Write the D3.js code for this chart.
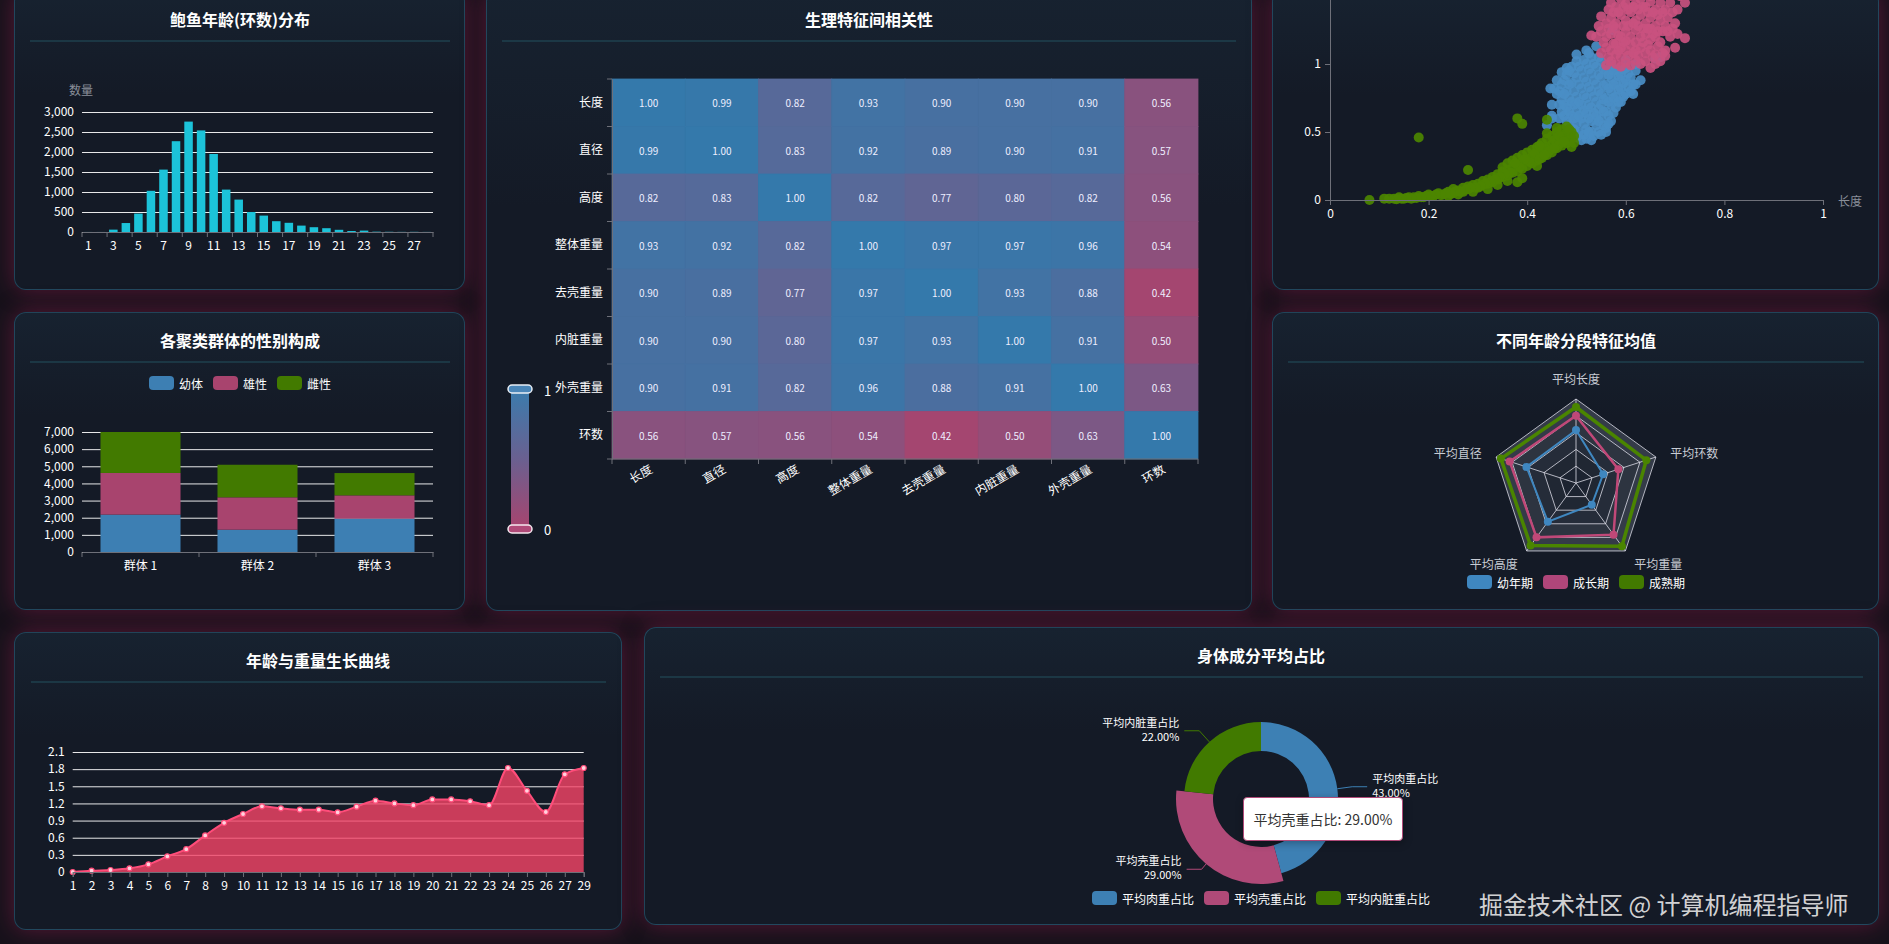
<!DOCTYPE html>
<html><head><meta charset="utf-8">
<script src="https://cdn.jsdelivr.net/npm/d3@7/dist/d3.min.js"></script>
<style>
html,body{margin:0;padding:0;width:1889px;height:944px;overflow:hidden;background:#17121b;}
.panel{position:absolute;box-sizing:border-box;border:1px solid rgba(45,110,140,0.5);border-radius:12px;
background:linear-gradient(180deg,#172230 0%,#141a26 35%,#141a26 100%);box-shadow:0 0 22px rgba(150,30,80,0.5);}
#chart{position:absolute;left:0;top:0;}
#tip{position:absolute;left:1243px;top:797px;width:160px;height:44px;box-sizing:border-box;background:#fff;border:1px solid #b04a78;border-radius:4px;
font:14px "Microsoft YaHei","Noto Sans CJK SC",sans-serif;color:#333;display:flex;align-items:center;justify-content:center;box-shadow:1px 2px 8px rgba(0,0,0,0.3);}
</style></head><body>
<div id="panels"></div>
<svg id="chart" width="1889" height="944"></svg>
<div id="tip"></div>
<script>
// ---------------- DATA ----------------
const ringCats = ['1','2','3','4','5','6','7','8','9','10','11','12','13','14','15','16','17','18','19','20','21','22','23','24','25','26','27','29'];
const ringCounts = [1,1,59,224,460,1030,1560,2270,2760,2540,1950,1060,810,500,410,270,230,160,120,95,55,25,35,8,5,3,4,2];

const clusterNames = ['群体 1','群体 2','群体 3'];
const sexNames = ['幼体','雄性','雌性'];
const sexJuvenile = [2180,1300,1945];
const sexMale = [2430,1890,1360];
const sexFemale = [2390,1900,1300];

const featureNames = ['长度','直径','高度','整体重量','去壳重量','内脏重量','外壳重量','环数'];
const corrMatrix = [
 [1.00,0.99,0.82,0.93,0.90,0.90,0.90,0.56],
 [0.99,1.00,0.83,0.92,0.89,0.90,0.91,0.57],
 [0.82,0.83,1.00,0.82,0.77,0.80,0.82,0.56],
 [0.93,0.92,0.82,1.00,0.97,0.97,0.96,0.54],
 [0.90,0.89,0.77,0.97,1.00,0.93,0.88,0.42],
 [0.90,0.90,0.80,0.97,0.93,1.00,0.91,0.50],
 [0.90,0.91,0.82,0.96,0.88,0.91,1.00,0.63],
 [0.56,0.57,0.56,0.54,0.42,0.50,0.63,1.00]
];

const scatterBlue = [[0.44,0.55],[0.45,0.62],[0.45,0.7],[0.46,0.78],[0.455,0.82],[0.447,0.82],[0.47,0.65],[0.47,0.74],[0.47,0.85],[0.48,0.58],[0.48,0.68],[0.48,0.8],[0.48,0.92],[0.48,0.97],[0.49,0.5],[0.49,0.62],[0.49,0.72],[0.49,0.86],[0.5,0.46],[0.5,0.56],[0.5,0.66],[0.5,0.76],[0.5,0.9],[0.5,1.02],[0.5,1.07],[0.51,0.44],[0.51,0.6],[0.51,0.7],[0.51,0.82],[0.51,0.95],[0.52,0.45],[0.52,0.52],[0.52,0.64],[0.52,0.75],[0.52,0.87],[0.52,1.0],[0.52,1.1],[0.53,0.5],[0.53,0.58],[0.53,0.68],[0.53,0.8],[0.53,0.93],[0.53,1.05],[0.54,0.55],[0.54,0.62],[0.54,0.72],[0.54,0.85],[0.54,0.98],[0.54,1.13],[0.55,0.48],[0.55,0.6],[0.55,0.7],[0.55,0.78],[0.55,0.9],[0.55,1.02],[0.56,0.53],[0.56,0.65],[0.56,0.75],[0.56,0.85],[0.56,0.95],[0.57,0.58],[0.57,0.7],[0.57,0.8],[0.57,0.9],[0.57,1.0],[0.58,0.68],[0.58,0.76],[0.58,0.86],[0.58,0.96],[0.59,0.72],[0.59,0.82],[0.59,0.92],[0.6,0.78],[0.6,0.88],[0.6,0.97],[0.61,0.8],[0.61,0.9],[0.62,0.85],[0.62,0.95],[0.63,0.88],[0.66,1.04],[0.67,1.05],[0.573,1.25],[0.46,0.88],[0.47,0.94],[0.49,0.98],[0.6,1.03],[0.62,1.0],[0.45,0.6],[0.56,0.5],[0.53,0.44],
 [0.465,0.6],[0.465,0.7],[0.465,0.8],[0.475,0.62],[0.475,0.7],[0.475,0.78],[0.475,0.88],[0.485,0.55],[0.485,0.65],[0.485,0.75],[0.485,0.85],[0.485,0.95],[0.495,0.52],[0.495,0.6],[0.495,0.7],[0.495,0.8],[0.495,0.93],[0.505,0.5],[0.505,0.62],[0.505,0.72],[0.505,0.85],[0.505,0.98],[0.515,0.48],[0.515,0.56],[0.515,0.66],[0.515,0.77],[0.515,0.9],[0.515,1.03],[0.525,0.5],[0.525,0.6],[0.525,0.7],[0.525,0.83],[0.525,0.96],[0.525,1.08],[0.535,0.47],[0.535,0.64],[0.535,0.76],[0.535,0.88],[0.535,1.0],[0.545,0.5],[0.545,0.58],[0.545,0.67],[0.545,0.8],[0.545,0.92],[0.545,1.05],[0.555,0.55],[0.555,0.65],[0.555,0.74],[0.555,0.84],[0.555,0.96],[0.565,0.56],[0.565,0.62],[0.565,0.72],[0.565,0.82],[0.565,0.92],[0.575,0.64],[0.575,0.75],[0.575,0.85],[0.575,0.95],[0.585,0.72],[0.585,0.81],[0.585,0.91],[0.595,0.76],[0.595,0.86],[0.595,0.96],[0.605,0.83],[0.605,0.93],[0.615,0.85],[0.615,0.78]];
const scatterPink = [[0.56,0.99],[0.57,1.02],[0.58,1.0],[0.59,1.05],[0.6,1.01],[0.61,0.99],[0.62,1.03],[0.63,1.0],[0.64,1.02],[0.66,1.0],[0.67,1.02],[0.55,1.08],[0.56,1.12],[0.57,1.1],[0.58,1.15],[0.59,1.12],[0.6,1.1],[0.61,1.14],[0.62,1.1],[0.63,1.12],[0.64,1.08],[0.65,1.1],[0.66,1.07],[0.68,1.1],[0.54,1.2],[0.55,1.24],[0.56,1.2],[0.57,1.22],[0.58,1.26],[0.59,1.2],[0.6,1.24],[0.61,1.2],[0.62,1.25],[0.63,1.2],[0.64,1.22],[0.65,1.18],[0.66,1.2],[0.67,1.16],[0.69,1.2],[0.72,1.19],[0.55,1.35],[0.56,1.3],[0.57,1.34],[0.58,1.3],[0.59,1.36],[0.6,1.32],[0.61,1.38],[0.62,1.32],[0.63,1.36],[0.64,1.3],[0.65,1.34],[0.66,1.28],[0.67,1.32],[0.68,1.28],[0.7,1.3],[0.57,1.45],[0.58,1.42],[0.59,1.48],[0.6,1.44],[0.61,1.5],[0.62,1.44],[0.63,1.48],[0.64,1.42],[0.65,1.46],[0.66,1.4],[0.67,1.45],[0.68,1.4],[0.69,1.45],[0.72,1.45],[0.71,1.5],[0.6,1.55],[0.64,1.55],[0.67,1.52],[0.53,1.21],[0.58,1.07],[0.62,1.16],[0.65,1.26],[0.6,1.17],[0.68,1.06],[0.7,1.12],
 [0.565,1.05],[0.575,1.15],[0.585,1.1],[0.595,1.16],[0.605,1.06],[0.615,1.08],[0.625,1.06],[0.635,1.16],[0.645,1.14],[0.655,1.05],[0.665,1.13],[0.675,1.08],[0.545,1.28],[0.555,1.16],[0.565,1.26],[0.575,1.28],[0.585,1.21],[0.595,1.28],[0.605,1.28],[0.615,1.3],[0.625,1.28],[0.635,1.26],[0.645,1.26],[0.655,1.22],[0.665,1.24],[0.675,1.24],[0.685,1.24],[0.695,1.26],[0.565,1.4],[0.575,1.38],[0.585,1.38],[0.595,1.42],[0.605,1.4],[0.615,1.42],[0.625,1.4],[0.635,1.42],[0.645,1.38],[0.655,1.38],[0.665,1.36],[0.675,1.38],[0.685,1.34],[0.695,1.38],[0.705,1.4],[0.58,1.52],[0.62,1.52],[0.65,1.5],[0.69,1.52],[0.705,1.22],[0.59,0.98],[0.65,0.97]];
const scatterGreen = [[0.08,0.0],[0.11,0.01],[0.13,0.01],[0.14,0.02],[0.15,0.01],[0.16,0.02],[0.17,0.02],[0.18,0.03],[0.19,0.02],[0.2,0.04],[0.21,0.03],[0.22,0.05],[0.23,0.04],[0.24,0.06],[0.25,0.05],[0.25,0.08],[0.26,0.07],[0.27,0.09],[0.27,0.06],[0.28,0.1],[0.28,0.08],[0.29,0.11],[0.3,0.12],[0.3,0.09],[0.31,0.14],[0.31,0.11],[0.32,0.15],[0.32,0.12],[0.33,0.17],[0.33,0.13],[0.34,0.19],[0.34,0.15],[0.35,0.21],[0.35,0.17],[0.35,0.24],[0.36,0.22],[0.36,0.18],[0.36,0.27],[0.37,0.24],[0.37,0.2],[0.37,0.29],[0.38,0.26],[0.38,0.21],[0.38,0.31],[0.39,0.28],[0.39,0.23],[0.39,0.33],[0.4,0.3],[0.4,0.25],[0.4,0.35],[0.41,0.32],[0.41,0.27],[0.41,0.37],[0.42,0.34],[0.42,0.29],[0.42,0.39],[0.43,0.36],[0.43,0.31],[0.43,0.42],[0.44,0.39],[0.44,0.33],[0.44,0.45],[0.45,0.41],[0.45,0.35],[0.45,0.47],[0.46,0.43],[0.46,0.38],[0.46,0.5],[0.47,0.45],[0.47,0.4],[0.47,0.52],[0.48,0.47],[0.48,0.42],[0.48,0.54],[0.49,0.5],[0.49,0.45],[0.49,0.39],[0.46,0.53],[0.44,0.49],[0.34,0.11],[0.38,0.13],[0.39,0.16],[0.28,0.22],[0.18,0.46],[0.38,0.6],[0.39,0.56],[0.44,0.59],[0.42,0.25],[0.36,0.14],[0.32,0.08],[0.24,0.03],[0.26,0.04],[0.29,0.06],
 [0.405,0.28],[0.415,0.34],[0.425,0.3],[0.435,0.38],[0.445,0.36],[0.455,0.44],[0.465,0.41],[0.475,0.48],[0.485,0.44],[0.455,0.38],[0.465,0.47],[0.475,0.43],[0.485,0.52],[0.495,0.47],[0.495,0.42],[0.435,0.33],[0.425,0.4],[0.395,0.3],[0.385,0.24],[0.375,0.27],[0.365,0.2],[0.355,0.19],[0.345,0.17],[0.335,0.15],[0.325,0.13],[0.315,0.12],[0.305,0.1],[0.295,0.09],[0.285,0.09],[0.275,0.075],[0.265,0.06],[0.255,0.065],[0.245,0.045],[0.235,0.05],[0.225,0.035],[0.215,0.04],[0.205,0.03],[0.195,0.03],[0.185,0.02],[0.175,0.015],[0.165,0.01],[0.155,0.015],[0.145,0.01],[0.135,0.005],[0.12,0.01]];

const radarIndicators = ['平均长度','平均环数','平均重量','平均高度','平均直径'];
const radarNames = ['幼年期','成长期','成熟期'];
const radarJuvenile = [0.63,0.34,0.32,0.57,0.62];
const radarGrowth = [0.80,0.53,0.76,0.80,0.83];
const radarMature = [0.905,0.88,0.93,0.92,0.94];

const ageCats = ['1','2','3','4','5','6','7','8','9','10','11','12','13','14','15','16','17','18','19','20','21','22','23','24','25','26','27','29'];
const ageWeights = [0.0,0.023,0.035,0.064,0.134,0.274,0.40,0.64,0.86,1.015,1.15,1.114,1.09,1.09,1.044,1.143,1.248,1.20,1.17,1.27,1.27,1.237,1.17,1.82,1.42,1.05,1.71,1.82];

const pieNames = ['平均肉重占比','平均壳重占比','平均内脏重占比'];
const pieValues = [0.43,0.29,0.22];

// ---------------- STYLE ----------------
const FONT='"Microsoft YaHei","Noto Sans CJK SC","Noto Sans",sans-serif';
const C_BLUE='#3d7fb3', C_PINK='#a8446e', C_GREEN='#427a00';
const AXIS='#6e7079', GRID='rgba(255,255,255,0.9)';

const panels=[[14,-10,451,300],[14,312,451,298],[486,-10,766,621],[1272,-10,607,300],[1272,312,607,298],[14,632,608,298],[644,627,1235,298]];
d3.select('#panels').selectAll('div').data(panels).join('div').attr('class','panel')
 .style('left',d=>d[0]+'px').style('top',d=>d[1]+'px').style('width',d=>d[2]+'px').style('height',d=>d[3]+'px');

const svg=d3.select('#chart').attr('font-family',FONT);

function title(cx,cy,t){svg.append('text').attr('x',cx).attr('y',cy).attr('text-anchor','middle').attr('dominant-baseline','central')
 .attr('fill','#fff').attr('font-size',16).attr('font-weight','bold').text(t);}
function sep(x1,x2,y){svg.append('line').attr('x1',x1).attr('x2',x2).attr('y1',y).attr('y2',y).attr('stroke','#23505e').attr('stroke-width',1);}
function legend(cx,cy,names,colors){
  const g=svg.append('g');
  let widths=names.map(n=>n.length*12);
  let total=d3.sum(widths)+names.length*30+(names.length-1)*10;
  let x=cx-total/2;
  names.forEach((n,i)=>{
    g.append('rect').attr('x',x).attr('y',cy-7).attr('width',25).attr('height',14).attr('rx',4).attr('fill',colors[i]);
    g.append('text').attr('x',x+30).attr('y',cy).attr('dominant-baseline','central').attr('fill','#fff').attr('font-size',12).text(n);
    x+=30+widths[i]+10;
  });
}
function styleAxis(g){g.attr('font-family',FONT).attr('font-size',12);g.selectAll('text').attr('fill','#fff');}

// ---------------- 1. HISTOGRAM ----------------
title(240,19,'鲍鱼年龄(环数)分布'); sep(30,450,41);
{
 const x=d3.scaleBand().domain(ringCats).range([82,433]).paddingInner(0.32).paddingOuter(0.16);
 const y=d3.scaleLinear().domain([0,3000]).range([232,112]);
 const ga=svg.append('g').attr('transform','translate(82,0)')
   .call(d3.axisLeft(y).tickValues(d3.range(0,3001,500)).tickSize(-351).tickPadding(8).tickFormat(d3.format(',')));
 styleAxis(ga); ga.select('.domain').remove(); ga.selectAll('line').attr('stroke',GRID);
 svg.append('g').selectAll('rect').data(ringCounts).join('rect')
   .attr('x',(d,i)=>x(ringCats[i])).attr('width',x.bandwidth()).attr('y',d=>y(d)).attr('height',d=>y(0)-y(d)).attr('fill','#1cc3d9');
 const gx=svg.append('g').attr('transform','translate(0,232)')
   .call(d3.axisBottom(x).tickSize(0).tickPadding(9).tickFormat((d,i)=>i%2===0?d:''));
 styleAxis(gx); gx.select('.domain').attr('stroke',AXIS);
 for(let i=0;i<=ringCats.length;i+=2){
   const xx=x.range()[0]+i*x.step();
   svg.append('line').attr('x1',xx).attr('x2',xx).attr('y1',232).attr('y2',237).attr('stroke',AXIS);
 }
 svg.append('text').attr('x',81).attr('y',89).attr('text-anchor','middle').attr('dominant-baseline','central').attr('fill','#8a8f99').attr('font-size',12).text('数量');
}

// ---------------- 2. STACKED BAR ----------------
title(240,340,'各聚类群体的性别构成'); sep(30,450,362);
legend(240,383,sexNames,[C_BLUE,C_PINK,C_GREEN]);
{
 const x=d3.scaleBand().domain(clusterNames).range([82,433]).paddingInner(0.316).paddingOuter(0.158);
 const y=d3.scaleLinear().domain([0,7000]).range([552,432]);
 const ga=svg.append('g').attr('transform','translate(82,0)')
   .call(d3.axisLeft(y).tickValues(d3.range(0,7001,1000)).tickSize(-351).tickPadding(8).tickFormat(d3.format(',')));
 styleAxis(ga); ga.select('.domain').remove(); ga.selectAll('line').attr('stroke',GRID);
 const rows=clusterNames.map((c,i)=>({c,'幼体':sexJuvenile[i],'雄性':sexMale[i],'雌性':sexFemale[i]}));
 const stack=d3.stack().keys(sexNames)(rows);
 const cols=[C_BLUE,C_PINK,C_GREEN];
 stack.forEach((s,k)=>{
   svg.append('g').selectAll('rect').data(s).join('rect')
    .attr('x',d=>x(d.data.c)).attr('width',x.bandwidth()).attr('y',d=>y(d[1])).attr('height',d=>y(d[0])-y(d[1])).attr('fill',cols[k]);
 });
 const gx=svg.append('g').attr('transform','translate(0,552)').call(d3.axisBottom(x).tickSize(0).tickPadding(9));
 styleAxis(gx); gx.select('.domain').attr('stroke',AXIS);
 for(let i=0;i<=clusterNames.length;i++){
   const xx=x.range()[0]+i*x.step();
   svg.append('line').attr('x1',xx).attr('x2',xx).attr('y1',552).attr('y2',557).attr('stroke',AXIS);
 }
}

// ---------------- 3. HEATMAP ----------------
title(869,19,'生理特征间相关性'); sep(502,1236,41);
{
 const x=d3.scaleBand().domain(featureNames).range([612,1198]);
 const y=d3.scaleBand().domain(featureNames).range([79,459]);
 const color=d3.scaleLinear().domain([0.4,1]).range([C_PINK,'#3479ab']).clamp(true);
 const cells=[];
 corrMatrix.forEach((row,i)=>row.forEach((v,j)=>cells.push({r:featureNames[i],c:featureNames[j],v})));
 svg.append('g').selectAll('rect').data(cells).join('rect')
   .attr('x',d=>x(d.c)).attr('y',d=>y(d.r)).attr('width',x.bandwidth()).attr('height',y.bandwidth())
   .attr('fill',d=>color(d.v)).attr('stroke',d=>color(d.v)).attr('stroke-width',0.8);
 svg.append('g').selectAll('text').data(cells).join('text')
   .attr('x',d=>x(d.c)+x.bandwidth()/2).attr('y',d=>y(d.r)+y.bandwidth()/2).attr('text-anchor','middle').attr('dominant-baseline','central')
   .attr('fill','#eef').attr('font-size',10).text(d=>d.v.toFixed(2));
 const gy=svg.append('g').attr('transform','translate(612,0)').call(d3.axisLeft(y).tickSize(0).tickPadding(9));
 styleAxis(gy); gy.select('.domain').attr('stroke',AXIS);
 featureNames.concat(['']).forEach((f,i)=>{
   const yy=79+i*y.step();
   svg.append('line').attr('x1',607).attr('x2',612).attr('y1',yy).attr('y2',yy).attr('stroke',AXIS);
   const xx=612+i*x.step();
   svg.append('line').attr('x1',xx).attr('x2',xx).attr('y1',459).attr('y2',464).attr('stroke',AXIS);
 });
 svg.append('line').attr('x1',612).attr('x2',1198).attr('y1',459).attr('y2',459).attr('stroke',AXIS);
 svg.append('g').selectAll('text').data(featureNames).join('text')
   .attr('transform',d=>`translate(${x(d)+x.bandwidth()/2+2},${467}) rotate(-30)`)
   .attr('text-anchor','end').attr('dominant-baseline','central').attr('fill','#fff').attr('font-size',12).text(d=>d);
 // visual map
 const defs=svg.append('defs');
 const lg=defs.append('linearGradient').attr('id','vm').attr('x1',0).attr('x2',0).attr('y1',0).attr('y2',1);
 lg.append('stop').attr('offset','0%').attr('stop-color','#3a7cad');
 lg.append('stop').attr('offset','50%').attr('stop-color','#6a6090');
 lg.append('stop').attr('offset','100%').attr('stop-color',C_PINK);
 svg.append('rect').attr('x',511).attr('y',389).attr('width',18).attr('height',140).attr('fill','url(#vm)');
 svg.append('rect').attr('x',508).attr('y',385).attr('width',24).attr('height',8).attr('rx',4).attr('fill','#4a86b8').attr('stroke','#e8eef5').attr('stroke-width',1.5);
 svg.append('rect').attr('x',508).attr('y',525).attr('width',24).attr('height',8).attr('rx',4).attr('fill','#b04a78').attr('stroke','#f5e8ee').attr('stroke-width',1.5);
 svg.append('text').attr('x',544).attr('y',390).attr('dominant-baseline','central').attr('fill','#fff').attr('font-size',13).text('1');
 svg.append('text').attr('x',544).attr('y',529).attr('dominant-baseline','central').attr('fill','#fff').attr('font-size',13).text('0');
}

// ---------------- 4. SCATTER ----------------
{
 const x=d3.scaleLinear().domain([0,1]).range([1330,1823]);
 const y=d3.scaleLinear().domain([0,1.5]).range([200,-4]);
 const sets=[[scatterBlue,'#4a8ec6'],[scatterPink,'#c9517f'],[scatterGreen,'#4c8600']];
 sets.forEach(([data,col])=>{
   svg.append('g').selectAll('circle').data(data).join('circle')
    .attr('cx',d=>x(d[0])).attr('cy',d=>y(d[1])).attr('r',5).attr('fill',col).attr('fill-opacity',0.92);
 });
 const gx=svg.append('g').attr('transform','translate(0,200)').call(d3.axisBottom(x).tickValues([0,0.2,0.4,0.6,0.8,1]).tickSize(5).tickPadding(4).tickFormat(d=>String(+d.toFixed(1))));
 styleAxis(gx); gx.selectAll('line,path').attr('stroke',AXIS);
 const gy=svg.append('g').attr('transform','translate(1330,0)').call(d3.axisLeft(y).tickValues([0,0.5,1]).tickSize(5).tickPadding(4).tickFormat(d=>String(d)));
 styleAxis(gy); gy.selectAll('line,path').attr('stroke',AXIS);
 svg.append('text').attr('x',1838).attr('y',200).attr('dominant-baseline','central').attr('fill','#8a8f99').attr('font-size',12).text('长度');
}

// ---------------- 5. RADAR ----------------
title(1576,340,'不同年龄分段特征均值'); sep(1288,1864,362);
{
 const cx=1576, cy=483, R=84;
 const ang=d3.scaleLinear().domain([0,radarIndicators.length]).range([-Math.PI/2,1.5*Math.PI]);
 const r=d3.scaleLinear().domain([0,1]).range([0,R]);
 const pt=(i,v)=>[cx+r(v)*Math.cos(ang(i)),cy+r(v)*Math.sin(ang(i))];
 const ring=k=>radarIndicators.map((_,i)=>pt(i,k));
 const levels=[1,0.8,0.6,0.4,0.2];
 const fills=['rgba(200,210,230,0.18)','rgba(200,210,230,0.14)','rgba(200,210,230,0.10)','rgba(200,210,230,0.07)','rgba(200,210,230,0.05)'];
 levels.forEach((k,j)=>{
   svg.append('polygon').attr('points',ring(k).map(p=>p.join(',')).join(' ')).attr('fill','#141a26');
   svg.append('polygon').attr('points',ring(k).map(p=>p.join(',')).join(' ')).attr('fill',fills[j]).attr('stroke','rgba(230,230,240,0.75)').attr('stroke-width',1);
 });
 radarIndicators.forEach((n,i)=>{
   const p=pt(i,1);
   svg.append('line').attr('x1',cx).attr('y1',cy).attr('x2',p[0]).attr('y2',p[1]).attr('stroke','rgba(230,230,240,0.75)');
   const c=Math.cos(ang(i)), s=Math.sin(ang(i));
   let lx=cx+(R+15)*c, ly=cy+(R+15)*s;
   let anchor=c>0.1?'start':(c<-0.1?'end':'middle');
   if(s<-0.9) ly-=6;
   svg.append('text').attr('x',lx).attr('y',ly).attr('text-anchor',anchor).attr('dominant-baseline','central').attr('fill','#c8ccd4').attr('font-size',12).text(n);
 });
 const series=[[radarJuvenile,'#3f87c0',2],[radarGrowth,'#c04878',2.5],[radarMature,'#4a8500',3.5]];
 const line=d3.lineRadial().angle((d,i)=>ang(i)+Math.PI/2).radius(d=>r(d)).curve(d3.curveLinearClosed);
 series.forEach(([vals,col,w])=>{
   svg.append('path').attr('transform',`translate(${cx},${cy})`).attr('d',line(vals)).attr('fill','none').attr('stroke',col).attr('stroke-width',w);
   vals.forEach((v,i)=>{const p=pt(i,v);svg.append('circle').attr('cx',p[0]).attr('cy',p[1]).attr('r',4).attr('fill',col);});
 });
 legend(1576,582,radarNames,['#3f87c0','#b0467a','#427a00']);
}

// ---------------- 6. LINE ----------------
title(318,660,'年龄与重量生长曲线'); sep(31,606,682);
{
 const x=d3.scalePoint().domain(ageCats).range([72.7,583.7]);
 const y=d3.scaleLinear().domain([0,2.1]).range([872,752]);
 const ga=svg.append('g').attr('transform','translate(72.7,0)')
   .call(d3.axisLeft(y).tickValues(d3.range(0,2.11,0.3)).tickSize(-511).tickPadding(8).tickFormat(d=>String(+d.toFixed(1))));
 styleAxis(ga); ga.select('.domain').remove(); ga.selectAll('line').attr('stroke',GRID);
 const area=d3.area().x((d,i)=>x(ageCats[i])).y0(872).y1(d=>y(d)).curve(d3.curveMonotoneX);
 const ln=d3.line().x((d,i)=>x(ageCats[i])).y(d=>y(d)).curve(d3.curveMonotoneX);
 svg.append('path').attr('d',area(ageWeights)).attr('fill','rgba(246,69,104,0.8)');
 svg.append('path').attr('d',ln(ageWeights)).attr('fill','none').attr('stroke','#ff4d7a').attr('stroke-width',2);
 svg.append('g').selectAll('circle').data(ageWeights).join('circle')
   .attr('cx',(d,i)=>x(ageCats[i])).attr('cy',d=>y(d)).attr('r',2.5).attr('fill','#ffd2dd').attr('stroke','#ff4d7a').attr('stroke-width',1.2);
 const gx=svg.append('g').attr('transform','translate(0,872)').call(d3.axisBottom(x).tickSize(5).tickPadding(4));
 styleAxis(gx); gx.selectAll('line,path').attr('stroke',AXIS);
}

// ---------------- 7. PIE ----------------
title(1261,655,'身体成分平均占比'); sep(660,1863,677);
{
 const cx=1261, cy=799;
 const pieCols=['#3d80b4','#b04a78','#417a00'];
 const arcs=d3.pie().sort(null).startAngle(0)(pieValues);
 const g=svg.append('g').attr('transform',`translate(${cx},${cy})`);
 arcs.forEach((a,i)=>{
   const outer = i===1?85:77;
   g.append('path').attr('d',d3.arc().innerRadius(48).outerRadius(outer)(a)).attr('fill',pieCols[i]);
   const mid=(a.startAngle+a.endAngle)/2, sx=Math.sin(mid), sy=-Math.cos(mid);
   const p0=[sx*77,sy*77], p1=[sx*92,sy*92], right=sx>0;
   const p2=[p1[0]+(right?15:-15),p1[1]];
   g.append('polyline').attr('points',[p0,p1,p2].map(p=>p.join(',')).join(' ')).attr('fill','none').attr('stroke',pieCols[i]).attr('stroke-width',1);
   const tx=p2[0]+(right?5:-5);
   g.append('text').attr('text-anchor',right?'start':'end').attr('fill','#fff').attr('font-size',11)
     .attr('x',tx).attr('y',p2[1]-9).attr('dominant-baseline','central').text(pieNames[i]);
   g.append('text').attr('text-anchor',right?'start':'end').attr('fill','#fff').attr('font-size',11)
     .attr('x',tx).attr('y',p2[1]+5).attr('dominant-baseline','central').text((pieValues[i]*100).toFixed(2)+'%');
 });
 legend(1261,898,pieNames,pieCols);
 d3.select('#tip').text(pieNames[1]+': '+(pieValues[1]*100).toFixed(2)+'%');
}

// watermark
svg.append('text').attr('x',1479).attr('y',903).attr('dominant-baseline','central').attr('fill','rgba(235,235,235,0.9)').attr('font-size',24).text('掘金技术社区 @ 计算机编程指导师');
</script>
</body></html>
